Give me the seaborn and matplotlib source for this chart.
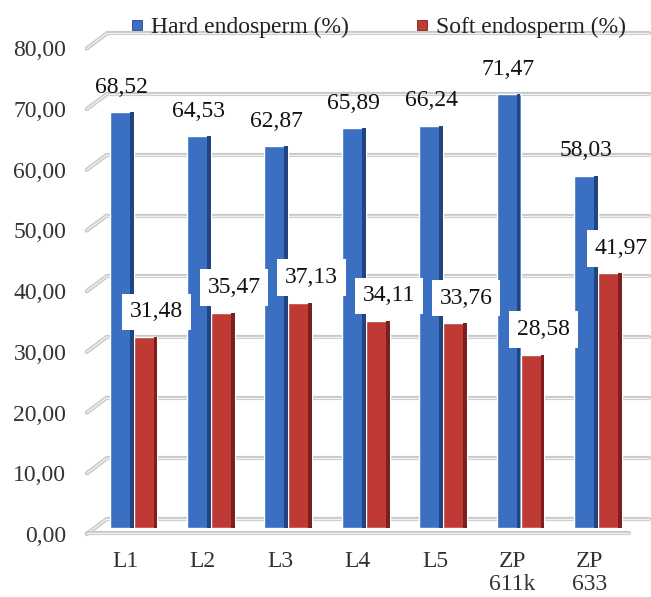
import matplotlib
matplotlib.use("Agg")
import matplotlib.pyplot as plt
import matplotlib.transforms as mtrans
from matplotlib.patches import Rectangle
from matplotlib.lines import Line2D
import seaborn as sns
import pandas as pd

categories = ["L1", "L2", "L3", "L4", "L5", "ZP\n611k", "ZP\n633"]
hard = [68.52, 64.53, 62.87, 65.89, 66.24, 71.47, 58.03]
soft = [31.48, 35.47, 37.13, 34.11, 33.76, 28.58, 41.97]
series = ["Hard endosperm (%)", "Soft endosperm (%)"]
yticks = [0, 10, 20, 30, 40, 50, 60, 70, 80]

BLUE = "#3A6FC2"
BLUE_SIDE = "#22457F"
RED = "#C03A35"
RED_SIDE = "#7C201D"
GRID_OUT = "#c8c8c8"
GRID_IN = "#f0f0f0"
FONT = "Liberation Serif"
FS = 17

sns.set_theme(style="white")
plt.rcParams["font.family"] = [FONT, "DejaVu Serif"]

df = pd.DataFrame({
    "cat": categories * 2,
    "series": [series[0]] * len(categories) + [series[1]] * len(categories),
    "val": hard + soft,
})

W, H = 651, 597
fig = plt.figure(figsize=(W / 100, H / 100), dpi=100)
fig.patch.set_facecolor("white")
ax = fig.add_axes([94.8 / W, (H - 528) / H, 541.8 / W, 485.6 / H])
ax.set_facecolor("none")

sns.barplot(data=df, x="cat", y="val", hue="series", hue_order=series,
            palette=[BLUE, RED], width=0.62, saturation=1, ax=ax,
            legend=False, zorder=3)
ax.set_xlim(-0.5, len(categories) - 0.5)
ax.set_ylim(0, 80)

def off(dx, dy):
    return mtrans.offset_copy(ax.transData, fig=fig, x=dx, y=dy, units="dots")

# pseudo-3D walls: back gridlines + left diagonal
back = off(12, 9)
front = off(-8, -6)
x0, x1 = ax.get_xlim()
inv = ax.transData.inverted()
for v in yticks:
    for lw, c in ((3.0, GRID_OUT), (1.0, GRID_IN)):
        ax.plot([x0, x1], [v, v], transform=back, color=c, lw=lw,
                solid_capstyle="round", zorder=1, clip_on=False)
        a = inv.transform(front.transform((x0, v)))
        b = inv.transform(back.transform((x0, v)))
        ax.plot([a[0], b[0]], [a[1], b[1]], color=c, lw=lw,
                solid_capstyle="round", zorder=1, clip_on=False)
# front floor edge
for lw, c in ((3.0, GRID_OUT), (1.0, GRID_IN)):
    ax.plot([x0, x1], [0, 0], transform=off(-8, -5), color=c, lw=lw,
            solid_capstyle="round", zorder=2, clip_on=False)

# darker side faces for 3D look
for cont, side in zip(ax.containers, [BLUE_SIDE, RED_SIDE]):
    for p in cont.patches:
        x, w, h = p.get_x(), p.get_width(), p.get_height()
        ax.add_patch(Rectangle((x + 0.84 * w, 0), 0.16 * w, h,
                               facecolor=side, edgecolor="none", zorder=4))

def fmt(v):
    return f"{v:.2f}".replace(".", ",")

# data labels
for p, v in zip(ax.containers[0].patches, hard):
    ax.annotate(fmt(v), (p.get_x() + p.get_width() / 2, v),
                xytext=(0, 25 * 0.72), textcoords="offset points",
                ha="center", va="center", fontsize=FS, color="#111111",
                zorder=6)
for p, v in zip(ax.containers[1].patches, soft):
    ax.annotate(fmt(v), (p.get_x() + p.get_width() / 2, v),
                xytext=(11 * 0.72, 25 * 0.72), textcoords="offset points",
                ha="center", va="center", fontsize=FS, color="#111111",
                zorder=6,
                bbox=dict(boxstyle="square,pad=0.33", facecolor="white",
                          edgecolor="none"))

# axes styling
for s in ax.spines.values():
    s.set_visible(False)
ax.grid(False)
ax.set_xlabel("")
ax.set_ylabel("")
ax.set_yticks(yticks)
ax.set_yticklabels([fmt(v) for v in yticks])
ax.tick_params(axis="y", length=0, pad=20.5, labelsize=FS, labelcolor="#333333")
ax.tick_params(axis="x", length=0, pad=16.5, labelsize=FS, labelcolor="#333333")
ax.set_xticks(range(len(categories)))
ax.set_xticklabels(categories, linespacing=1.15)
for lab in ax.get_yticklabels():
    lab.set_transform(lab.get_transform() + mtrans.ScaledTranslation(0, -6 / 100, fig.dpi_scale_trans))
for lab in ax.get_xticklabels():
    lab.set_transform(lab.get_transform() + mtrans.ScaledTranslation(-8 / 100, 0, fig.dpi_scale_trans))

handles = [Line2D([], [], marker="s", linestyle="none", markersize=7,
                  markerfacecolor=c, markeredgecolor=e, markeredgewidth=0.6)
           for c, e in ((BLUE, BLUE_SIDE), (RED, RED_SIDE))]
fig.legend(handles, series, loc="center", bbox_to_anchor=(378 / W, 1 - 27 / H),
           ncol=2, frameon=False, fontsize=FS, handlelength=0.6,
           handletextpad=0.3, columnspacing=2.8, borderpad=0,
           labelcolor="#222222")

fig.savefig("out.png", dpi=100, facecolor="white")
